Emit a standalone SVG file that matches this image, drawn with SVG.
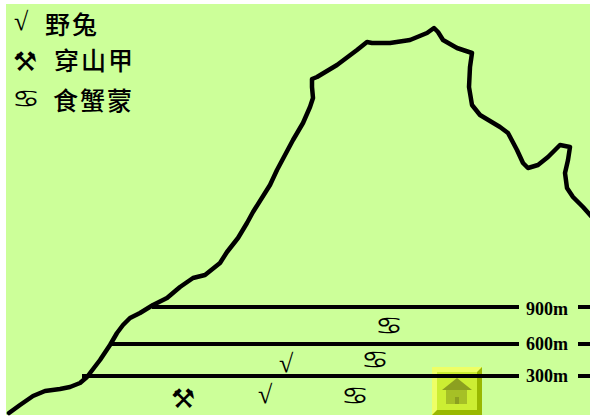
<svg xmlns="http://www.w3.org/2000/svg" width="590" height="416" viewBox="0 0 590 416">
  <style>
    .cjk { font-family: "Noto Sans CJK SC", "Noto Sans", sans-serif; font-size: 25px; font-weight: 500; fill: #000; letter-spacing: 2px; }
    .sym { font-family: "DejaVu Sans", sans-serif; fill: #000; }
    .root { font-family: "Liberation Serif", serif; font-size: 26px; fill: #000; }
    .alt { font-family: "Liberation Serif", serif; font-weight: bold; font-size: 18px; fill: #000; }
    .level { stroke: #000; stroke-width: 4; fill: none; }
    .ridge { stroke: #000; stroke-width: 4.5; fill: none; stroke-linejoin: round; stroke-linecap: round; }
  </style>
  <defs>
    <!-- crab sign, widened -->
    <text id="crab" class="sym" font-size="24" transform="scale(1.3,1)">♋</text>
  </defs>

  <rect x="0" y="0" width="590" height="416" fill="#ffffff"/>
  <rect x="6" y="4" width="584" height="411" fill="#ccff99"/>

  <!-- legend -->
  <g id="legend">
    <text class="root" x="14" y="30">√</text>
    <text class="cjk" x="45" y="34">野兔</text>
    <text class="sym" x="13" y="71" font-size="27">⚒</text>
    <text class="cjk" x="54" y="70">穿山甲</text>
    <use href="#crab" x="12" y="107"/>
    <text class="cjk" x="53" y="110">食蟹蒙</text>
  </g>

  <!-- home button -->
  <g id="home-button">
    <rect x="432" y="367" width="50" height="48" fill="#99b800"/>
    <polygon points="432,367 482,367 477,372 437,372 437,410 432,415" fill="#eeff66"/>
    <rect x="437" y="372" width="40" height="38" fill="#ccee33"/>
    <polygon points="457,378 472,390 442,390" fill="#8ca020"/>
    <rect x="446" y="390" width="21" height="14" fill="#a6c026"/>
    <rect x="455" y="397" width="4" height="7" fill="#8ca020"/>
  </g>

  <!-- mountain outline -->
  <g id="mountain">
    <polyline class="ridge" points="9,413 20,405 33,396 45,391 60,389 70,387 80,383 87,377 100,360 110,345 117,333 123,325 130,318 140,313 153,305 167,298 180,287 193,278 205,275 220,263 227,252 238,238 247,223 253,212 270,185 277,170 293,140 303,123 310,107 313,98 312,87 312,79 317,77 337,65 357,50 367,42 372,43 390,43 410,40 427,33 434,28 438,32 443,40 457,48 472,53 470,67 469,87 472,105 480,115 490,121 500,127 508,133 517,150 523,163 528,168 538,165 548,157 560,145 570,147 568,160 565,173 567,188 573,197 583,207 592,217"/>
  </g>

  <!-- altitude lines -->
  <g id="connectors">
    <line class="level" x1="152" y1="307" x2="519" y2="307"/>
    <line class="level" x1="578" y1="307" x2="590" y2="307"/>
    <line class="level" x1="110" y1="344" x2="519" y2="344"/>
    <line class="level" x1="578" y1="344" x2="590" y2="344"/>
    <line class="level" x1="82" y1="376" x2="519" y2="376"/>
    <line class="level" x1="578" y1="376" x2="590" y2="376"/>
  </g>

  <g id="labels">
    <text class="alt" x="526" y="315">900m</text>
    <text class="alt" x="526" y="350">600m</text>
    <text class="alt" x="526" y="382">300m</text>
  </g>

  <!-- animal markers on the slope -->
  <g id="markers">
    <use href="#crab" x="375" y="334"/>
    <use href="#crab" x="361" y="368"/>
    <use href="#crab" x="341" y="404"/>
    <text class="root" x="279" y="372">√</text>
    <text class="root" x="258" y="403">√</text>
    <text class="sym" x="171" y="408" font-size="27">⚒</text>
  </g>
</svg>
